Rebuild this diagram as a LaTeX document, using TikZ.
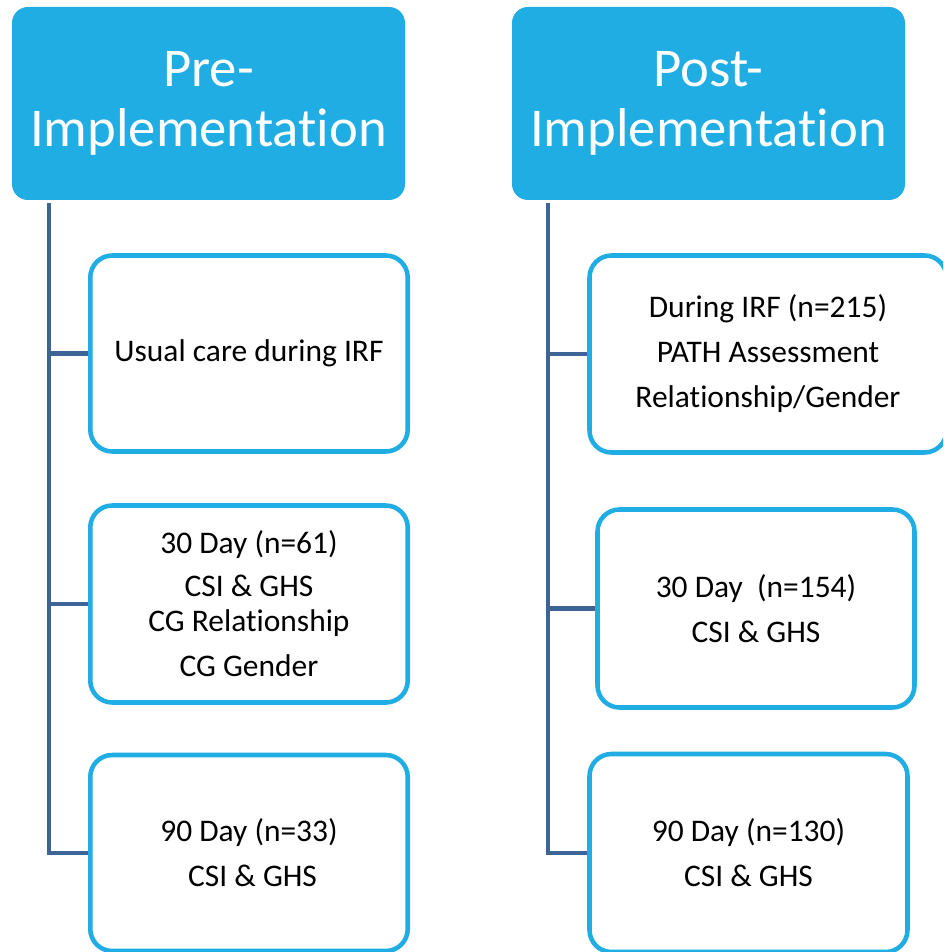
\documentclass[tikz,border=0pt]{standalone}
\usepackage{fontspec}
\setmainfont{Carlito}[Ligatures={NoCommon}]
\definecolor{hdrblue}{HTML}{1FADE3}
\definecolor{stemblue}{HTML}{3E6496}
\tikzset{
  header/.style={fill=hdrblue, rounded corners=12pt, text=white, align=center,
    minimum width=294.75pt, minimum height=144.75pt, inner sep=0pt,
    font=\fontsize{41pt}{45pt}\selectfont},
  itembox/.style={draw=hdrblue, line width=3.4pt, fill=white, rounded corners=16.5pt,
    align=center, inner sep=0pt, font=\fontsize{23.6pt}{33.75pt}\selectfont},
  stem/.style={draw=stemblue, line width=3.7pt}
}
\begin{document}
\begin{tikzpicture}[x=0.75pt, y=-0.75pt]
\useasboundingbox (0,0) rectangle (943,952);
\clip (0,0) rectangle (943,952);
\fill[white] (0,0) rectangle (943,952);

% headers
\node[header] (preH) at (208.5,103.5) {Pre-\\Implementation};
\node[header] (postH) at (708.5,103.5) {Post-\\Implementation};

% left column boxes
\node[itembox, minimum width=238.1pt, minimum height=147pt] (pre1) at (249,353.5) {Usual care during IRF};
\node[itembox, minimum width=238.1pt, minimum height=147.75pt] (pre2) at (249,604)
  {30 Day (n=61)\\[-1.5pt] CSI \& GHS\\[-7.5pt] CG Relationship\\ CG Gender};
\node[itembox, minimum width=238.1pt, minimum height=147pt] (pre3) at (249,853)
  {90 Day (n=33)\\ \ CSI \& GHS};

% right column boxes
\node[itembox, minimum width=267.75pt, minimum height=147.75pt] (post1) at (768,354)
  {During IRF (n=215)\\ PATH Assessment\\ Relationship/Gender};
\node[itembox, minimum width=237.75pt, minimum height=148.5pt] (post2) at (756,608.5)
  {30 Day\ \ (n=154)\\ CSI \& GHS};
\node[itembox, minimum width=238.5pt, minimum height=148.5pt] (post3) at (748.5,853)
  {90 Day (n=130)\\ CSI \& GHS};

% stems
\coordinate (lt) at (49,203);
\coordinate (rt) at (548,203);
\coordinate (lb) at (49,853);
\coordinate (rb) at (548,853);
\draw[stem] (lt) -- (lb);
\draw[stem] (lt |- pre1.west) -- (pre1.west);
\draw[stem] (lt |- pre2.west) -- (pre2.west);
\draw[stem, line join=miter] (lt) |- (pre3.west);
\draw[stem] (rt |- post1.west) -- (post1.west);
\draw[stem] (rt |- post2.west) -- (post2.west);
\draw[stem, line join=miter] (rt) |- (post3.west);
\end{tikzpicture}
\end{document}
